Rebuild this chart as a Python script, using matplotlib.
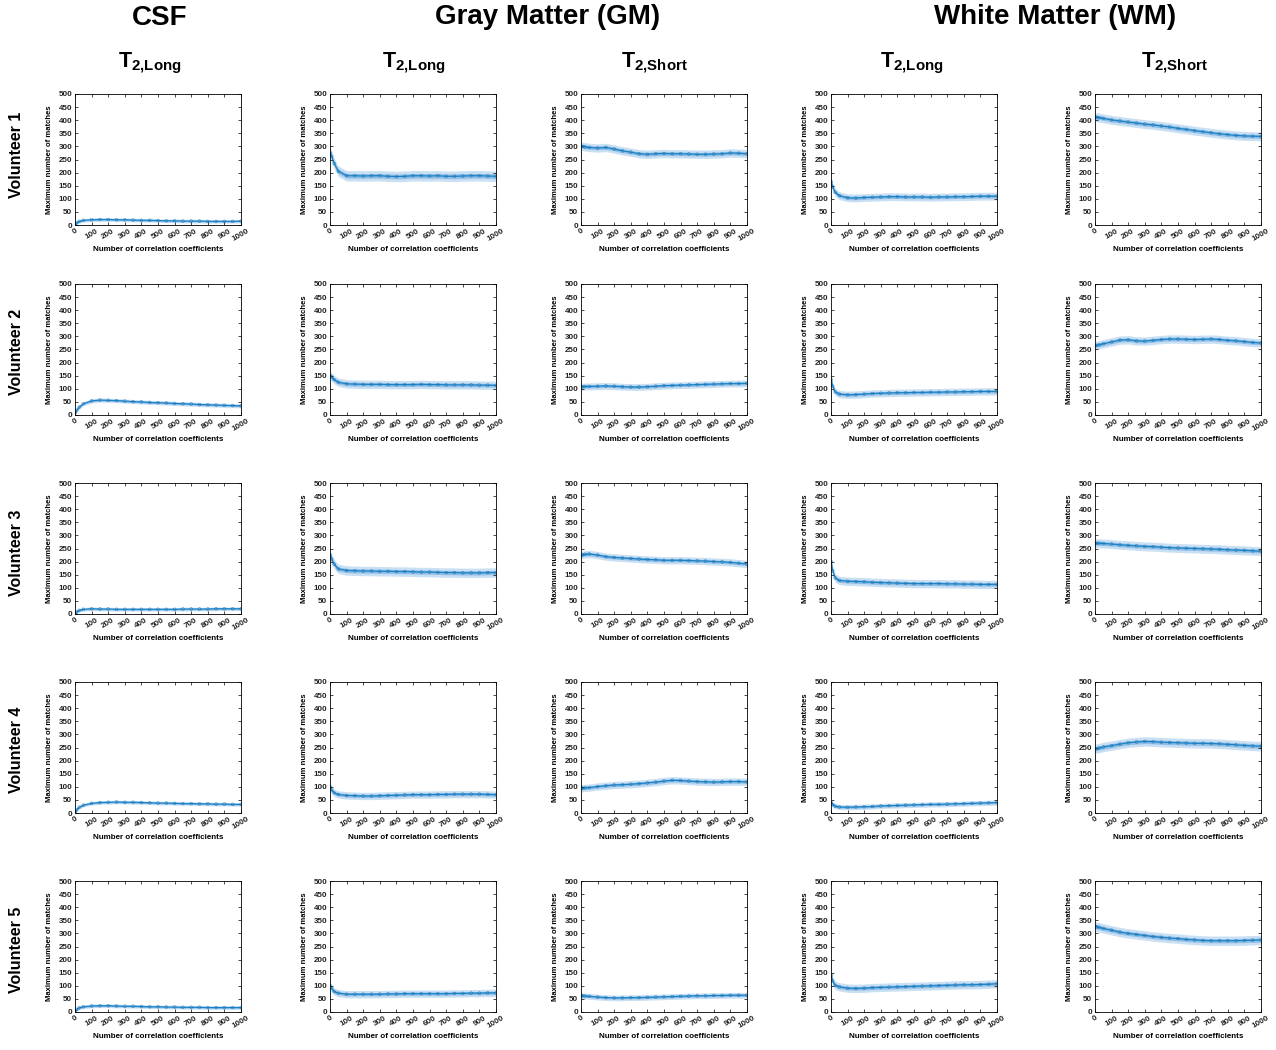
import numpy as np
import matplotlib.pyplot as plt

plt.rcParams['font.family'] = ['Liberation Sans', 'DejaVu Sans']
plt.rcParams['mathtext.fontset'] = 'custom'
plt.rcParams['mathtext.bf'] = 'Liberation Sans:bold'
plt.rcParams['mathtext.rm'] = 'Liberation Sans:bold'

x_read = [1, 10, 25, 50, 100, 150, 200, 250, 300, 350, 400, 450,
          500, 550, 600, 650, 700, 750, 800, 850, 900, 950, 1000]

# Typical (centre) maximum number of matches, one list per volunteer
csf_long = [
    [2, 8, 14, 18, 20, 21, 21, 20, 20, 19, 18, 18, 17, 16, 16, 15, 15, 15, 14, 14, 14, 14, 15],
    [8, 18, 30, 43, 54, 57, 56, 55, 53, 51, 50, 48, 47, 46, 44, 43, 42, 40, 39, 38, 37, 36, 35],
    [2, 8, 14, 18, 20, 19, 19, 18, 18, 18, 18, 18, 18, 18, 18, 19, 19, 19, 19, 20, 20, 20, 20],
    [3, 12, 22, 30, 37, 40, 41, 42, 41, 41, 40, 39, 38, 38, 37, 36, 36, 35, 35, 34, 34, 33, 33],
    [3, 10, 16, 20, 23, 24, 24, 23, 22, 22, 21, 20, 20, 19, 19, 18, 18, 18, 17, 17, 17, 17, 17],
]
gm_long = [
    [275, 262, 235, 205, 188, 188, 187, 188, 188, 186, 185, 186, 188, 188, 187, 188, 186, 186, 187, 188, 188, 187, 186],
    [150, 145, 135, 125, 119, 118, 117, 117, 117, 116, 116, 116, 116, 117, 116, 116, 115, 115, 115, 115, 114, 114, 113],
    [225, 210, 190, 172, 166, 165, 164, 164, 163, 163, 162, 162, 161, 160, 160, 159, 158, 158, 157, 157, 157, 158, 158],
    [100, 88, 77, 71, 67, 66, 65, 65, 66, 67, 68, 69, 70, 70, 70, 71, 71, 72, 72, 72, 72, 71, 70],
    [100, 90, 78, 72, 68, 68, 68, 68, 68, 69, 69, 70, 70, 70, 70, 70, 70, 71, 71, 72, 72, 73, 73],
]
gm_short = [
    [300, 300, 298, 296, 294, 296, 290, 283, 278, 272, 270, 272, 273, 272, 272, 271, 270, 270, 271, 272, 275, 274, 272],
    [108, 108, 109, 109, 110, 111, 110, 108, 107, 107, 108, 110, 112, 113, 114, 115, 116, 117, 118, 119, 120, 120, 121],
    [225, 226, 228, 229, 225, 219, 216, 214, 212, 210, 208, 207, 205, 205, 205, 204, 203, 202, 200, 199, 197, 194, 191],
    [95, 95, 96, 97, 101, 104, 107, 108, 110, 112, 115, 118, 122, 125, 124, 122, 120, 119, 118, 119, 120, 120, 119],
    [62, 62, 61, 60, 57, 55, 54, 54, 55, 55, 56, 57, 58, 59, 60, 61, 62, 62, 63, 63, 64, 64, 64],
]
wm_long = [
    [165, 145, 125, 112, 104, 103, 105, 106, 107, 108, 108, 107, 107, 107, 106, 107, 107, 108, 108, 109, 110, 110, 110],
    [135, 110, 88, 80, 77, 78, 80, 82, 83, 84, 85, 85, 86, 86, 87, 87, 88, 88, 89, 89, 90, 90, 90],
    [200, 165, 138, 128, 125, 124, 123, 121, 120, 119, 118, 117, 116, 116, 116, 116, 115, 115, 114, 114, 113, 113, 113],
    [40, 32, 26, 23, 22, 23, 24, 25, 27, 28, 29, 30, 31, 32, 33, 33, 34, 35, 36, 37, 38, 39, 40],
    [140, 118, 102, 96, 91, 90, 91, 93, 94, 95, 96, 97, 98, 99, 100, 101, 102, 103, 104, 104, 105, 106, 108],
]
wm_short = [
    [412, 411, 410, 407, 401, 397, 393, 389, 385, 382, 378, 374, 369, 365, 360, 356, 352, 348, 345, 342, 340, 339, 338],
    [265, 266, 268, 272, 279, 286, 287, 283, 282, 285, 288, 290, 290, 289, 288, 289, 290, 288, 285, 283, 280, 277, 275],
    [270, 270, 270, 269, 267, 264, 262, 260, 258, 257, 255, 253, 252, 251, 250, 249, 248, 247, 245, 244, 243, 241, 240],
    [245, 246, 248, 252, 257, 263, 268, 271, 273, 272, 270, 269, 268, 267, 266, 266, 265, 264, 262, 260, 258, 256, 255],
    [327, 325, 323, 319, 312, 305, 300, 296, 292, 288, 285, 282, 280, 277, 275, 273, 272, 272, 272, 272, 273, 274, 275],
]

# Half-width of the scatter band, per volunteer
csf_long_spread = [7, 8, 7, 7, 7]
gm_long_spread = [20, 16, 18, 14, 14]
gm_short_spread = [16, 13, 14, 14, 11]
wm_long_spread = [15, 14, 16, 10, 16]
wm_short_spread = [17, 16, 17, 18, 18]

columns = [csf_long, gm_long, gm_short, wm_long, wm_short]
spreads = [csf_long_spread, gm_long_spread, gm_short_spread, wm_long_spread, wm_short_spread]
sub_titles = [r'$\mathbf{T_{2{,}Long}}$', r'$\mathbf{T_{2{,}Long}}$', r'$\mathbf{T_{2{,}Short}}$',
              r'$\mathbf{T_{2{,}Long}}$', r'$\mathbf{T_{2{,}Short}}$']
volunteers = ['Volunteer 1', 'Volunteer 2', 'Volunteer 3', 'Volunteer 4', 'Volunteer 5']

W, H = 1276, 1050
col_left = [75, 330, 581, 831, 1095]
row_top = [94, 284, 483, 682, 881]
ax_w, ax_h = 166, 131
blue = '#0072BD'

fig = plt.figure(figsize=(W / 100, H / 100), dpi=100)

for r in range(5):
    for c in range(5):
        ax = fig.add_axes([col_left[c] / W, 1 - (row_top[r] + ax_h) / H, ax_w / W, ax_h / H])
        y = np.array(columns[c][r])
        s = spreads[c][r]
        ax.fill_between(x_read, y - s, y + s, color='#a6cbec', alpha=0.6, lw=0)
        ax.fill_between(x_read, y - s * 0.45, y + s * 0.45, color='#4f97d3', alpha=0.45, lw=0)
        ax.plot(x_read, y, color=blue, lw=0.9, alpha=0.8)
        ax.scatter(x_read, y, s=4, facecolors='none', edgecolors=blue, linewidths=0.4, alpha=0.8)
        ax.set_xlim(0, 1000)
        ax.set_ylim(0, 500)
        ax.set_xticks(range(0, 1001, 100))
        ax.set_yticks(range(0, 501, 50))
        ax.tick_params(direction='in', length=2.5, width=0.5, top=True, right=True, labelsize=5.8, pad=2)
        for lab in ax.get_xticklabels() + ax.get_yticklabels():
            lab.set_fontweight('bold')
            lab.set_color('#222222')
        for lab in ax.get_xticklabels():
            lab.set_rotation(30)
        for sp in ax.spines.values():
            sp.set_linewidth(0.6)
        ax.set_xlabel('Number of correlation coefficients', fontsize=5.8, fontweight='bold', labelpad=2)
        ax.set_ylabel('Maximum number of matches', fontsize=5.5, fontweight='bold', labelpad=4)

# Column and group headers
fig.text(160 / W, 1 - 18 / H, 'CSF', ha='center', va='center', fontsize=20, fontweight='bold')
fig.text(548 / W, 1 - 17 / H, 'Gray Matter (GM)', ha='center', va='center', fontsize=20, fontweight='bold')
fig.text(1055 / W, 1 - 17 / H, 'White Matter (WM)', ha='center', va='center', fontsize=20, fontweight='bold')
sub_x = [150, 414, 654, 912, 1174]
for c in range(5):
    fig.text(sub_x[c] / W, 1 - 63 / H, sub_titles[c], ha='center', va='center', fontsize=15.5)

row_y = [155, 352, 553, 750, 950]
for r in range(5):
    fig.text(17 / W, 1 - row_y[r] / H, volunteers[r], ha='center', va='center', rotation=90,
             fontsize=11.5, fontweight='bold')

fig.savefig('out.png', dpi=100)
